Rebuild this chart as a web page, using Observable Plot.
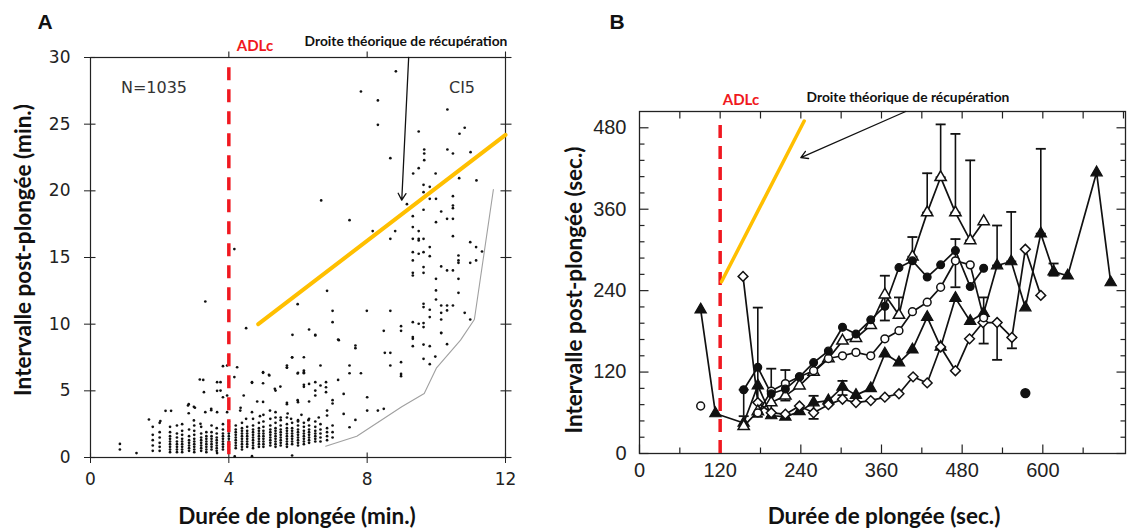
<!DOCTYPE html>
<html><head><meta charset="utf-8">
<script src="https://cdn.jsdelivr.net/npm/d3@7"></script>
<script src="https://cdn.jsdelivr.net/npm/@observablehq/plot@0.6"></script>
<style>
body{margin:0;background:#fff;}
#wrap{position:relative;width:1129px;height:530px;overflow:hidden;background:#fff;}
.panel{position:absolute;top:0;}
.lbl{position:absolute;white-space:nowrap;transform:translate(-50%,-50%);font-family:Lato,"Open Sans",sans-serif;font-weight:700;color:#111;}
.rot{transform:translate(-50%,-50%) rotate(-90deg);}
.big{font-family:"Liberation Sans",Arial,sans-serif;font-size:21px;font-weight:700;}
.red{color:#f01820;font-size:15px;}
.note{font-size:13.8px;}
.axt{font-size:22.5px;}
.inn{font-family:"DejaVu Sans",sans-serif;font-weight:400;font-size:16px;color:#333;}
</style></head><body><div id="wrap"></div>
<script>
// ---------------- Panel A data (minutes) ----------------
const xTicksA = [0, 4, 8, 12];
const yTicksA = [0, 5, 10, 15, 20, 25, 30];
const topTicksA = [4, 8, 12];
const adlcA = [4];
const recupA = [[4.85, 10.0], [12, 24.2]];
const envelopeA = [[6.8,0.85],[7.7,1.6],[9.0,3.8],[9.65,4.8],[10.0,6.7],[10.7,8.8],[11.1,10.35],[11.65,20.1]];
const arrowA = [[9.2, 30, 9.0, 19.3]];
const scatterA = [
 [8.83,28.96],[7.82,27.45],[8.31,26.78],[8.31,24.95],[10.32,26.1],[10.82,24.73],[10.67,24.28],[9.49,24.45],
 [8.67,22.45],[9.65,23.1],[9.65,22.8],[9.65,22.3],[10.32,23.1],[10.48,22.8],[10.99,22.9],[9.49,21.7],[9.33,21.3],[9.98,21.3],[10.66,20.95],[11.16,20.78],
 [6.67,19.28],[7.49,17.8],[4.16,15.63],[3.32,11.7],[4.5,9.7],
 [8.16,16.98],[8.81,16.98],[8.67,16.4],[6.84,12.5],[5.99,11.5],[7.0,11.0],[7.0,10.15],[7.99,11.0],[8.67,11.0],[6.32,9.6],[5.84,9.2],[6.5,9.2],[7.18,8.8],[8.48,9.5],[8.98,9.85],[8.98,9.5],
 [9.15,19.0],[9.63,20.45],[9.63,19.9],[9.81,20.3],[9.81,19.4],[9.99,19.4],
 [9.32,18.1],[9.32,17.28],[9.49,16.98],[9.32,16.4],[9.49,16.4],[9.63,16.4],[9.49,16.28],[9.32,15.4],[9.63,15.4],[9.81,15.78],[9.49,15.28],[9.81,15.1],[9.32,14.78],[9.63,14.28],[9.32,13.85],[9.32,13.65],[9.63,13.85],[9.99,13.4],[9.99,12.53],[9.99,11.85],[9.81,11.08],[9.81,10.53],[9.63,11.53],[9.63,11.28],[9.49,10.03],[9.32,10.15],[9.63,10.08],[9.32,9.03],[9.63,9.78],
 [9.63,18.58],[9.99,17.65],[10.14,18.45],[10.31,17.9],[10.48,17.9],[10.48,18.9],[10.48,18.7],[10.48,19.6],[10.48,16.6],[10.64,15.15],[10.64,14.78],[10.64,14.6],[10.14,14.33],[10.31,14.03],[10.48,14.03],[10.64,13.4],[10.64,12.35],[10.14,11.4],[10.31,11.4],[10.48,11.4],[10.14,10.85],[10.31,11.03],[10.14,10.35],[10.82,10.85],[10.98,10.35],[10.14,9.33],[10.98,16.15],[11.15,15.78],[11.32,15.45],[11.15,14.78],[10.98,14.6],
 [6.5,9.15],[7.16,8.85],[7.66,8.4],[7.66,8.2],[8.51,7.85],[8.67,7.85],[8.98,7.15],[8.67,6.9],[8.98,6.27],[8.98,6.1],[9.32,8.9],[9.32,8.35],[9.63,8.47],[9.81,8.35],[10.14,9.35],[10.31,8.5],[9.63,7.4],[9.81,7.0],[9.97,7.57],
 [5.83,7.52],[6.17,7.52],[5.68,6.9],[5.68,6.73],[6.0,6.35],[6.17,6.52],[6.17,6.32],[6.65,6.9],[7.49,6.9],[7.49,6.32],[7.82,6.32],[4.99,6.35],[5.17,6.15],
 [4.67,5.65],[4.99,5.57],[5.49,5.32],[5.35,5.02],[6.17,5.45],[6.32,5.52],[6.5,5.65],[6.65,5.4],[6.81,5.65],[6.81,5.27],[6.81,4.9],[6.5,5.02],[6.5,4.65],[7.16,5.82],[7.32,4.77],[5.68,4.1],[5.68,4.0],[6.0,4.15],[6.32,4.2],[4.99,4.17],[8.0,4.52],[8.0,3.52],[8.31,3.52],[8.48,3.65],[7.66,2.82],[7.49,2.27],[7.0,4.3],[7.0,4.05],[7.32,3.27],[6.84,3.52],[6.84,3.15],
 [3.26,5.82],[3.76,5.65],[3.95,6.9],[4.24,6.77],[3.28,4.9],[3.76,5.02],[3.95,4.65],[4.43,4.65],[2.84,4.0],[2.99,3.8],[2.17,3.5],[2.33,3.5],[2.84,3.32],[3.32,3.4],[3.49,3.65],[3.66,3.4],[3.95,3.4],[4.33,3.52],[4.67,3.4],[5.19,3.52],[5.35,3.4],
 [1.69,2.85],[2.02,2.73],[2.99,2.78],[3.18,2.53],[2.65,2.5],
 [0.85,1.02],[0.85,0.6],[1.33,0.33],[3.66,0.33],[4.17,0.08],[4.67,0.1],[5.83,0.15],
 [3.83,6.85],[4.16,6.03],[4.34,3.73],[4.67,5.6],[4.82,4.2],[4.99,6.4],[5.16,6.2],[5.33,5.15],[5.68,6.75],[5.83,7.5],[5.99,6.3],[5.99,4.3],[6.17,6.4],[6.17,5.3],[3.02,3.73],[3.16,5.85],[3.66,5.65],[3.66,5.0],[3.83,4.52],[2.82,3.9],[3.49,3.55],
 [5.5,3.0],[5.8,2.9],[6.1,3.2],[6.3,2.8],[6.6,3.0],[6.0,2.7],[5.2,2.9],[4.5,2.9],[4.9,3.1],[5.7,3.3]
];
const clusterX = [1.8,2.0,2.3,2.5,2.65,2.85,3.0,3.2,3.35,3.5,3.65,3.83,4.0,4.2,4.38,4.53,4.7,4.87,5.0,5.2,5.35,5.5,5.68,5.83,6.0,6.17,6.32,6.5,6.65,6.84,7.0];
const clusterY = [
 [0.5,0.9,1.3,1.7,2.3],
 [0.5,0.8,1.1,1.5,1.9,2.6],
 [0.4,0.6,0.8,1.0,1.2,1.4,1.6,1.9,2.3],
 [0.4,0.6,0.8,1.0,1.2,1.5,1.8,2.4],
 [0.4,0.6,0.8,1.0,1.2,1.4,1.7,2.0],
 [0.5,0.7,0.9,1.1,1.3,1.6,2.1],
 [0.4,0.6,0.8,1.0,1.2,1.4,1.7,2.0,2.4],
 [0.5,0.7,0.9,1.1,1.3,1.5,1.8,2.3],
 [0.4,0.6,0.8,1.0,1.2,1.4,1.6,1.9],
 [0.6,0.8,1.0,1.2,1.4,1.6,1.9,2.4],
 [0.5,0.7,0.9,1.1,1.3,1.5,1.8,2.2],
 [0.6,0.8,1.0,1.2,1.4,1.6,1.8,2.1,2.5],
 [0.6,0.8,1.0,1.2,1.4,1.6,1.8,2.0,2.3,2.7],
 [0.7,0.9,1.1,1.3,1.5,1.7,1.9,2.1,2.4],
 [0.6,0.8,1.0,1.2,1.4,1.6,1.8,2.0,2.2,2.6],
 [0.8,1.0,1.2,1.4,1.6,1.8,2.0,2.3],
 [0.7,0.9,1.1,1.3,1.5,1.7,1.9,2.1,2.4,2.9],
 [0.8,1.0,1.2,1.4,1.6,1.8,2.0,2.2,2.6],
 [0.8,1.0,1.2,1.4,1.6,1.8,2.0,2.3,2.7,3.2],
 [0.9,1.1,1.3,1.5,1.7,1.9,2.1,2.4],
 [0.8,1.0,1.2,1.4,1.6,1.8,2.0,2.2,2.6,3.0],
 [0.9,1.1,1.3,1.5,1.7,1.9,2.1,2.4,2.8],
 [0.8,1.0,1.2,1.4,1.6,1.8,2.0,2.2,2.5,3.0],
 [1.0,1.2,1.4,1.6,1.8,2.0,2.2,2.6],
 [0.9,1.1,1.3,1.5,1.7,1.9,2.1,2.4,2.8],
 [1.0,1.2,1.4,1.6,1.8,2.0,2.3,2.6],
 [1.1,1.3,1.5,1.7,1.9,2.1,2.4,2.9],
 [1.2,1.4,1.6,1.8,2.0,2.3,2.7],
 [1.2,1.5,1.8,2.1,2.5],
 [1.3,1.6,1.9,2.2],
 [1.5,1.9,2.4]
];

// ---------------- Panel B data (seconds) ----------------
const xTicksB = [0, 120, 240, 360, 480, 600];
const xMinorB = [60, 180, 300, 420, 540, 660];
const topTicksB = [60,120,180,240,300,360,420,480,540,600,660,720];
const yTicksB = [0, 120, 240, 360, 480];
const yMinorB = [24,48,72,96,144,168,192,216,264,288,312,336,384,408,432,456];
const adlcB = [120];
const recupB = [[122, 253], [245, 490]];
const arrowB = [[396, 504, 240, 436]];
const filledCircX = [155,176,196,217,238,259,281,302,322,344,365,386,406,428,448,470,492,512];
const filledCircY = [94,127,88,95,113,134,151,186,176,197,217,274,284,260,278,299,246,273];
const openCircX = [176,196,217,238,259,281,302,322,344,365,386,406,428,448,470,492,512];
const openCircY = [60,92,103,113,122,140,144,149,144,169,181,209,223,245,284,278,200];
const openTriX = [155,176,196,217,238,259,281,302,322,344,365,386,406,428,448,470,492,512];
const openTriY = [40,62,75,85,100,120,140,166,170,189,234,204,290,355,407,355,314,342];
const filledTriX = [91,113,155,176,196,217,238,259,281,302,322,344,365,386,406,428,448,470,492,512,532,553,574,597,616,637,680,701];
const filledTriY = [212,59,45,100,56,54,62,75,78,98,86,96,147,134,153,201,157,229,195,207,277,283,215,324,268,262,414,252];
const diamondX = [154,176,196,217,238,259,281,302,322,344,365,386,407,428,448,470,491,511,532,554,574,597];
const diamondY = [261,75,60,58,70,60,72,80,75,78,83,88,113,104,157,122,169,193,193,171,301,233];
const loneOpenCirc = [[91, 70]];
const loneFilledCirc = [[574, 89]];
const errX  = [155,176,196,217,259,302,365,386,406,428,448,470,492,470,512,532,532,553,554,597,616];
const errLo = [55, 54, 54, 78, 51, 86,196,201,290,355,407,355,314,245,162,138,277,283,155,324,262];
const errHi = [94,215,125,123, 85,107,262,230,319,413,485,471,432,316,230,193,336,356,171,449,280];

// ---------------- helpers ----------------
const tickSym = (dx, dy) => ({draw(ctx){ ctx.moveTo(0,0); ctx.lineTo(dx,dy); }});
const capSym = {draw(ctx){ ctx.moveTo(-5,0); ctx.lineTo(5,0); }};
const RED = "#f01820", ORANGE = "#ffbf00";

const clusterPts = clusterX.flatMap((x, i) => clusterY[i].map(y => [x, y]));
const ptsA = scatterA.concat(clusterPts);

const plotA = Plot.plot({
  width: 560, height: 530, marginLeft: 90, marginRight: 55, marginTop: 57, marginBottom: 73,
  x: {domain: [0, 12], label: null}, y: {domain: [0, 30], label: null},
  style: {fontFamily: "DejaVu Sans", fontSize: "17px", color: "#222", background: "transparent", overflow: "visible"},
  marks: [
    Plot.axisX(xTicksA, {tickSize: 6, tickPadding: 9, fontSize: 17, label: null}),
    Plot.axisY(yTicksA, {tickSize: 6, tickPadding: 14, fontSize: 17, label: null}),
    Plot.dot(xTicksA.map(x => [x, 0]), {x: "0", y: "1", symbol: tickSym(0, -5), fill: "none", stroke: "#222", strokeWidth: 1.1}),
    Plot.dot(yTicksA.map(y => [0, y]), {x: "0", y: "1", symbol: tickSym(5, 0), fill: "none", stroke: "#222", strokeWidth: 1.1}),
    Plot.dot(yTicksA.map(y => [12, y]), {x: "0", y: "1", symbol: tickSym(-5, 0), fill: "none", stroke: "#222", strokeWidth: 1.1}),
    Plot.dot(yTicksA.map(y => [12, y]), {x: "0", y: "1", symbol: tickSym(6, 0), fill: "none", stroke: "#222", strokeWidth: 1.1}),
    Plot.dot(topTicksA.map(x => [x, 30]), {x: "0", y: "1", symbol: tickSym(0, -6), fill: "none", stroke: "#222", strokeWidth: 1.1}),
    Plot.frame({stroke: "#222", strokeWidth: 1.2}),
    Plot.line(envelopeA, {x: "0", y: "1", stroke: "#a0a0a0", strokeWidth: 1.1}),
    Plot.dot(ptsA, {x: "0", y: "1", r: 1.35, fill: "#111", stroke: "none"}),
    Plot.ruleX(adlcA, {x: d => d, y1: 0.2, y2: 29.6, stroke: RED, strokeWidth: 3.5, strokeDasharray: "13,9"}),
    Plot.line(recupA, {x: "0", y: "1", stroke: ORANGE, strokeWidth: 4}),
    Plot.arrow(arrowA, {x1: "0", y1: "1", x2: "2", y2: "3", stroke: "#111", strokeWidth: 1.3, headLength: 9})
  ]
});

const ser = (xs, ys) => xs.map((x, i) => [x, ys[i]]);
const FC = ser(filledCircX, filledCircY), OC = ser(openCircX, openCircY),
      OT = ser(openTriX, openTriY), FT = ser(filledTriX, filledTriY), DM = ser(diamondX, diamondY);
const errs = errX.map((x, i) => [x, errLo[i], errHi[i]]);
const LW = 1.7;

const plotB = Plot.plot({
  width: 569, height: 530, marginLeft: 79, marginRight: 4, marginTop: 111, marginBottom: 77,
  x: {domain: [0, 723], label: null}, y: {domain: [0, 504], label: null},
  style: {fontFamily: "Liberation Sans", fontSize: "20px", color: "#222", background: "transparent", overflow: "visible"},
  marks: [
    Plot.axisX(xTicksB, {tickSize: 0, tickPadding: 9, fontSize: 20, label: null}),
    Plot.axisY(yTicksB, {tickSize: 0, tickPadding: 13, fontSize: 20, label: null}),
    Plot.dot(xTicksB.map(x => [x, 0]), {x: "0", y: "1", symbol: tickSym(0, -9), fill: "none", stroke: "#222", strokeWidth: 1.2}),
    Plot.dot(xMinorB.map(x => [x, 0]), {x: "0", y: "1", symbol: tickSym(0, -6), fill: "none", stroke: "#222", strokeWidth: 1.2}),
    Plot.dot(topTicksB.map(x => [x, 504]), {x: "0", y: "1", symbol: tickSym(0, 7), fill: "none", stroke: "#222", strokeWidth: 1.2}),
    Plot.dot(yTicksB.map(y => [0, y]), {x: "0", y: "1", symbol: tickSym(9, 0), fill: "none", stroke: "#222", strokeWidth: 1.2}),
    Plot.dot(yMinorB.map(y => [0, y]), {x: "0", y: "1", symbol: tickSym(5, 0), fill: "none", stroke: "#222", strokeWidth: 1.2}),
    Plot.dot(yTicksB.map(y => [723, y]), {x: "0", y: "1", symbol: tickSym(-9, 0), fill: "none", stroke: "#222", strokeWidth: 1.2}),
    Plot.dot(yMinorB.map(y => [723, y]), {x: "0", y: "1", symbol: tickSym(-5, 0), fill: "none", stroke: "#222", strokeWidth: 1.2}),
    Plot.frame({stroke: "#222", strokeWidth: 1.3}),
    Plot.ruleX(adlcB, {x: d => d, y1: 0, y2: 495, stroke: RED, strokeWidth: 3.5, strokeDasharray: "13,8"}),
    Plot.line(recupB, {x: "0", y: "1", stroke: ORANGE, strokeWidth: 3.5}),
    Plot.arrow(arrowB, {x1: "0", y1: "1", x2: "2", y2: "3", stroke: "#111", strokeWidth: 1.3, headLength: 9}),
    Plot.ruleX(errs, {x: "0", y1: "1", y2: "2", stroke: "#111", strokeWidth: 1.6}),
    Plot.dot(errs, {x: "0", y: "2", symbol: capSym, fill: "none", stroke: "#111", strokeWidth: 1.8}),
    Plot.dot(errs, {x: "0", y: "1", symbol: capSym, fill: "none", stroke: "#111", strokeWidth: 1.8}),
    Plot.line(FT, {x: "0", y: "1", stroke: "#111", strokeWidth: LW}),
    Plot.line(DM, {x: "0", y: "1", stroke: "#111", strokeWidth: LW}),
    Plot.line(OT, {x: "0", y: "1", stroke: "#111", strokeWidth: LW}),
    Plot.line(OC, {x: "0", y: "1", stroke: "#111", strokeWidth: LW}),
    Plot.line(FC, {x: "0", y: "1", stroke: "#111", strokeWidth: LW}),
    Plot.dot(FT, {x: "0", y: "1", symbol: "triangle", r: 4.2, fill: "#111", stroke: "#111", strokeWidth: 1.2}),
    Plot.dot(DM, {x: "0", y: "1", symbol: "diamond2", r: 4.4, fill: "#fff", stroke: "#111", strokeWidth: 1.5}),
    Plot.dot(OT, {x: "0", y: "1", symbol: "triangle", r: 4.2, fill: "#fff", stroke: "#111", strokeWidth: 1.5}),
    Plot.dot(OC, {x: "0", y: "1", symbol: "circle", r: 3.9, fill: "#fff", stroke: "#111", strokeWidth: 1.5}),
    Plot.dot(FC, {x: "0", y: "1", symbol: "circle", r: 3.9, fill: "#111", stroke: "#111", strokeWidth: 1.2}),
    Plot.dot(loneOpenCirc, {x: "0", y: "1", symbol: "circle", r: 3.9, fill: "#fff", stroke: "#111", strokeWidth: 1.5}),
    Plot.dot(loneFilledCirc, {x: "0", y: "1", symbol: "circle", r: 4.4, fill: "#111", stroke: "#111"})
  ]
});

const wrap = document.getElementById("wrap");
const pa = document.createElement("div"); pa.className = "panel"; pa.style.left = "0px"; pa.appendChild(plotA);
const pb = document.createElement("div"); pb.className = "panel"; pb.style.left = "560px"; pb.appendChild(plotB);
wrap.appendChild(pa); wrap.appendChild(pb);

const labels = [
  ["A", 45, 22, "lbl big"], ["B", 617, 22, "lbl big"],
  ["ADLc", 255, 45, "lbl red"], ["Droite théorique de récupération", 406, 40, "lbl note"],
  ["ADLc", 741, 99, "lbl red"], ["Droite théorique de récupération", 908, 96, "lbl note"],
  ["N=1035", 154, 87, "lbl inn"], ["CI5", 462, 87, "lbl inn"],
  ["Durée de plongée (min.)", 297, 515, "lbl axt"], ["Durée de plongée (sec.)", 884, 515, "lbl axt"],
  ["Intervalle post-plongée (min.)", 22, 250, "lbl axt rot"], ["Intervalle post-plongée (sec.)", 573, 290, "lbl axt rot"]
];
for (const [t, x, y, c] of labels) {
  const d = document.createElement("div");
  d.className = c; d.textContent = t; d.style.left = x + "px"; d.style.top = y + "px";
  wrap.appendChild(d);
}
</script></body></html>
